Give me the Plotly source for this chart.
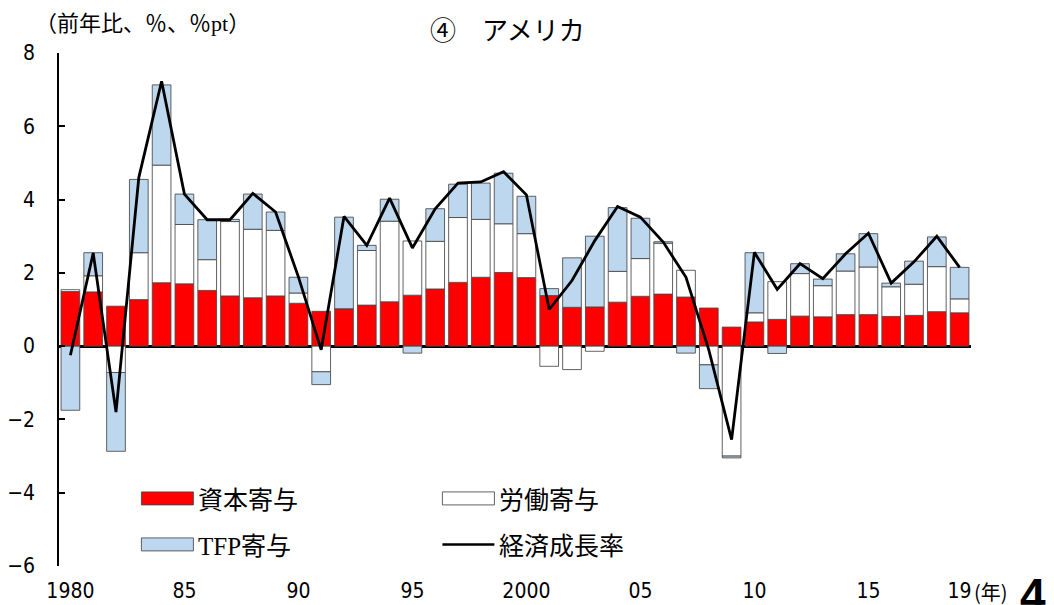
import plotly.graph_objects as go

# Growth accounting for the US economy, 1980-2019 (y/y %, %pt)
years = list(range(1980, 2020))

capital = [1.49, 1.48, 1.09, 1.27, 1.73, 1.70, 1.52, 1.37, 1.32, 1.37,
           1.17, 0.95, 1.02, 1.12, 1.21, 1.39, 1.56, 1.74, 1.88, 2.01,
           1.87, 1.38, 1.06, 1.07, 1.20, 1.36, 1.42, 1.34, 1.04, 0.52,
           0.66, 0.73, 0.82, 0.80, 0.86, 0.86, 0.81, 0.84, 0.94, 0.91]

labor = [0.05, 0.44, -0.72, 1.28, 3.21, 1.62, 0.84, 2.03, 1.87, 1.79,
         0.28, -0.70, 0.00, 1.49, 2.20, 1.48, 1.30, 1.77, 1.58, 1.33,
         1.20, -0.55, -0.64, -0.14, 0.84, 1.03, 1.39, 0.73, -0.51, -3.00,
         0.25, 1.03, 1.16, 0.85, 1.19, 1.30, 0.81, 0.85, 1.23, 0.38]

tfp = [-1.75, 0.63, -2.15, 2.00, 2.19, 0.83, 1.09, 0.06, 0.96, 0.50,
       0.43, -0.35, 2.50, 0.14, 0.60, -0.19, 0.89, 0.91, 0.99, 1.38,
       1.02, 0.19, 1.35, 1.93, 1.74, 1.10, 0.04, -0.19, -0.65, -0.05,
       1.64, -0.20, 0.27, 0.18, 0.47, 0.91, 0.10, 0.63, 0.81, 0.86]

gdp = [-0.25, 2.54, -1.80, 4.60, 7.23, 4.15, 3.45, 3.45, 4.17, 3.66,
       1.89, -0.10, 3.54, 2.75, 4.04, 2.68, 3.75, 4.45, 4.48, 4.76,
       4.13, 1.00, 1.79, 2.88, 3.81, 3.52, 2.84, 1.88, -0.10, -2.55,
       2.56, 1.55, 2.25, 1.84, 2.52, 3.08, 1.72, 2.30, 3.00, 2.15]

x_tickvals = [1980, 1985, 1990, 1995, 2000, 2005, 2010, 2015, 2019]
x_ticktext = ["1980", "85", "90", "95", "2000", "05", "10", "15", "19"]
y_tickvals = [8, 6, 4, 2, 0, -2, -4, -6]

RED = "#FF0000"
WHITE = "#FFFFFF"
BLUE = "#BDD7EE"
EDGE = "rgba(70,70,70,0.85)"

JP = "Noto Sans CJK JP"
NUM = "DejaVu Sans Condensed, Liberation Sans Narrow, Noto Sans CJK JP, sans-serif"
SERIF = "Liberation Serif, DejaVu Serif, serif"

fig = go.Figure()
for name, vals, col in [("資本寄与", capital, RED),
                        ("労働寄与", labor, WHITE),
                        ("TFP寄与", tfp, BLUE)]:
    fig.add_trace(go.Bar(x=years, y=vals, name=name,
                         marker=dict(color=col, line=dict(color=EDGE, width=1)),
                         showlegend=False))

fig.add_trace(go.Scatter(x=years, y=gdp, name="経済成長率", mode="lines",
                         line=dict(color="black", width=2.8),
                         showlegend=False))

# plot area geometry (pixels)
L, R, T, B = 58.6, 83.4, 52.5, 39.4
W, H = 1054, 605
pw, ph = W - L - R, H - T - B


def px(xp):
    return (xp - L) / pw


def py(yp):
    return (H - B - yp) / ph


# custom legend: wide swatches with labels
legend_items = [
    (141, 498, "rect", RED, "資本寄与"),
    (442, 498, "rect", WHITE, "労働寄与"),
    (141, 544, "rect", BLUE, f"<span style='font-family:{SERIF}'>TFP</span>寄与"),
    (442, 544, "line", "black", "経済成長率"),
]
shapes = []
annotations = []
for x0, yc, kind, col, label in legend_items:
    if kind == "rect":
        shapes.append(dict(type="rect", xref="paper", yref="paper",
                           x0=px(x0), x1=px(x0 + 52), y0=py(yc + 6.5), y1=py(yc - 6.5),
                           fillcolor=col, line=dict(color=EDGE, width=1)))
    else:
        shapes.append(dict(type="line", xref="paper", yref="paper",
                           x0=px(x0), x1=px(x0 + 52), y0=py(yc), y1=py(yc),
                           line=dict(color="black", width=2.5)))
    annotations.append(dict(xref="paper", yref="paper", x=px(x0 + 55), y=py(yc),
                            xanchor="left", yanchor="middle", showarrow=False,
                            text=label, font=dict(family=JP, size=25, color="black")))

annotations += [
    dict(xref="paper", yref="paper", x=px(507), y=py(28), xanchor="center",
         yanchor="middle", showarrow=False, text="④　アメリカ",
         font=dict(family=JP, size=26, color="black")),
    dict(xref="paper", yref="paper", x=px(33), y=py(20), xanchor="left",
         yanchor="middle", showarrow=False,
         text=f"（前年比、％、％<span style='font-family:{SERIF}'>pt</span>）",
         font=dict(family=JP, size=22, color="black")),
    dict(xref="paper", yref="paper", x=px(972), y=py(591), xanchor="left",
         yanchor="middle", showarrow=False, text="(年)",
         font=dict(family=JP, size=20, color="black")),
    dict(xref="paper", yref="paper", x=px(1018), y=py(567), xanchor="left",
         yanchor="top", showarrow=False, text="<b>4</b>",
         font=dict(family="Liberation Sans, Arial, sans-serif", size=46, color="black")),
]

fig.update_layout(
    width=W, height=H,
    margin=dict(l=L, r=R, t=T, b=B),
    paper_bgcolor="white", plot_bgcolor="white",
    barmode="relative", bargap=0.18,
    shapes=shapes, annotations=annotations,
    xaxis=dict(range=[1979.5, 2019.5], tickmode="array", tickvals=x_tickvals,
               ticktext=x_ticktext, showgrid=False, showline=False, zeroline=False,
               ticks="", ticklabelstandoff=10, automargin=False,
               tickfont=dict(family=NUM, size=21, color="black")),
    yaxis=dict(range=[-6, 8], tickmode="array", tickvals=y_tickvals,
               showgrid=False, showline=True, linecolor="black", linewidth=1.5,
               ticks="inside", ticklen=6, tickwidth=1.5, tickcolor="black",
               zeroline=True, zerolinecolor="black", zerolinewidth=2.5,
               ticklabelstandoff=18, automargin=False,
               tickfont=dict(family=NUM, size=21, color="black")),
)

fig.write_html("out.html")
